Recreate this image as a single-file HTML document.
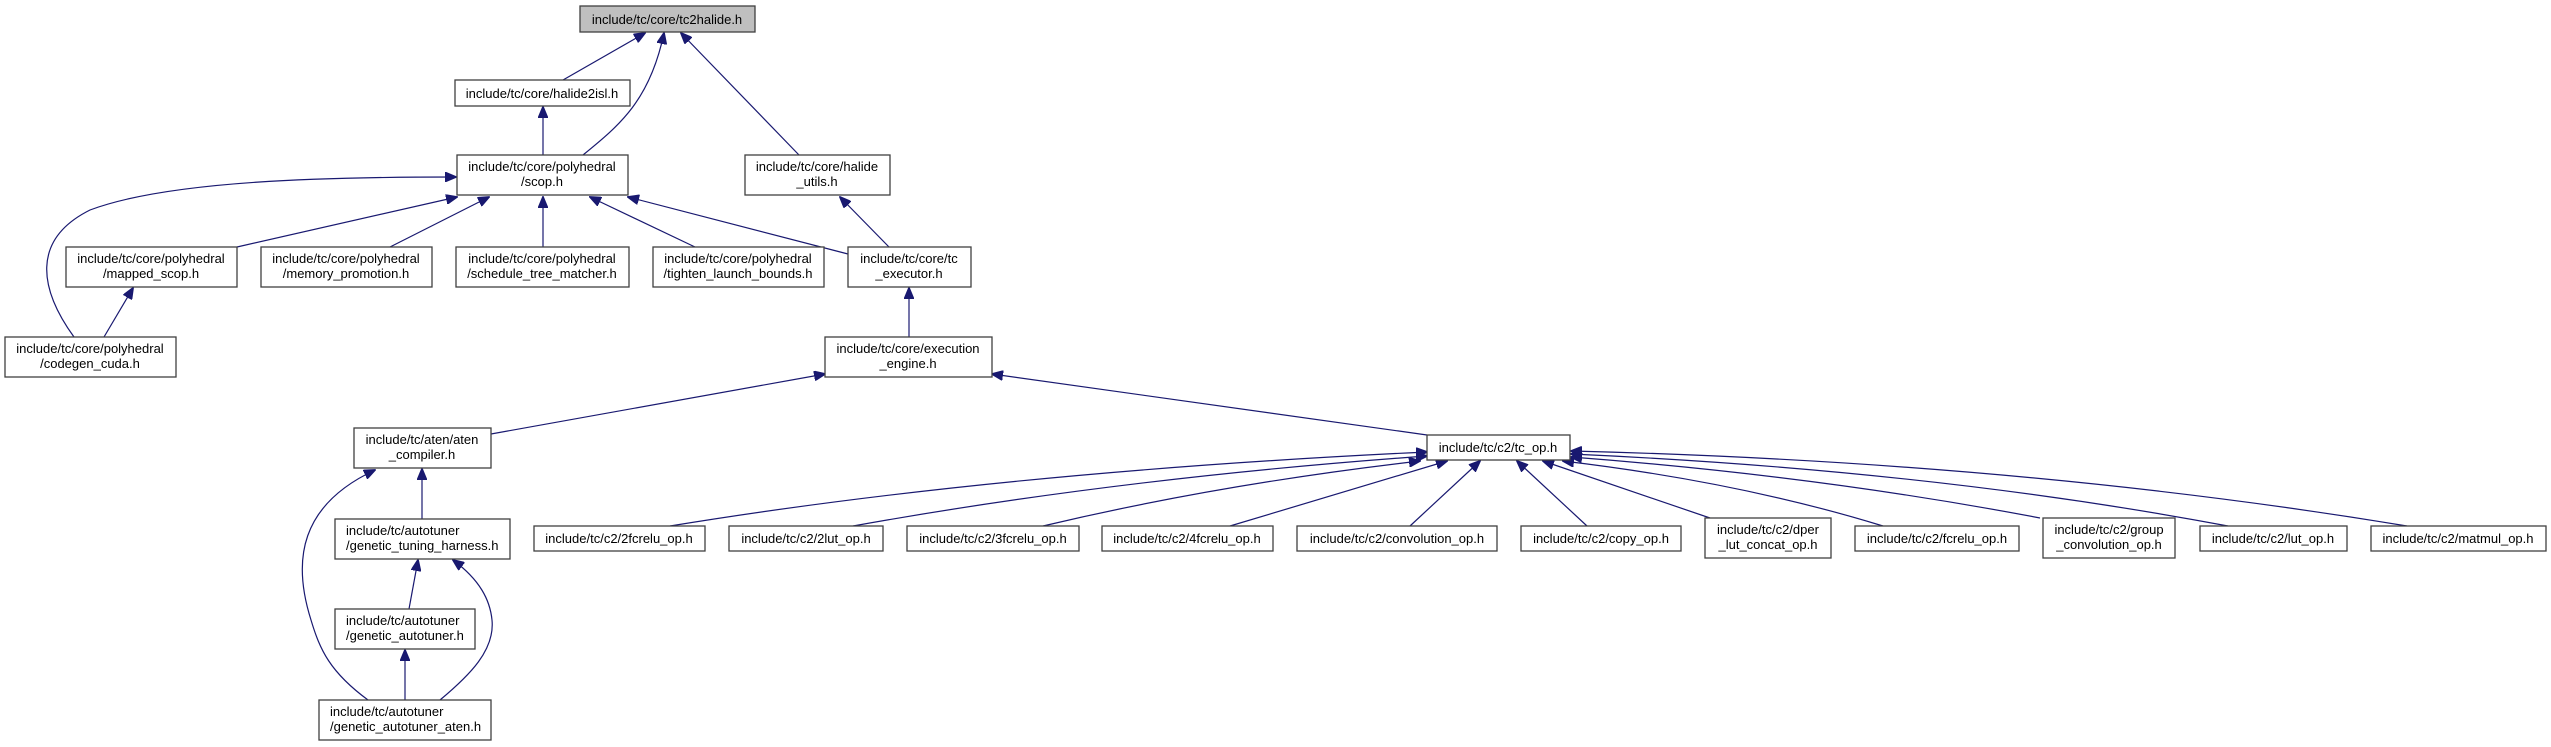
<!DOCTYPE html>
<html><head><meta charset="utf-8"><style>
html,body{margin:0;padding:0;background:#fff;}
svg{display:block;}
text{font-family:"Liberation Sans",Arial,sans-serif;font-size:13px;fill:#000;}
.n{fill:#fff;stroke:#404040;stroke-width:1.3;}
.e{fill:none;stroke:#191970;stroke-width:1.2;}
</style></head><body>
<svg width="2551" height="747" viewBox="0 0 2551 747" xmlns="http://www.w3.org/2000/svg">
<defs>
<marker id="a" markerWidth="12" markerHeight="10" refX="11" refY="5" orient="auto" markerUnits="userSpaceOnUse">
<path d="M0,0 L12,5 L0,10 z" fill="#191970" stroke="#191970"/>
</marker>
</defs>
<g class="edges">
<path class="e" marker-end="url(#a)" d="M563,80 L645,33"/>
<path class="e" marker-end="url(#a)" d="M583,155 C620,125 650,100 664,33"/>
<path class="e" marker-end="url(#a)" d="M799,155 L681,33"/>
<path class="e" marker-end="url(#a)" d="M543,155 L543,107"/>
<path class="e" marker-end="url(#a)" d="M889,247 L840,197"/>
<path class="e" marker-end="url(#a)" d="M237,247 L457,197"/>
<path class="e" marker-end="url(#a)" d="M390,247 L489,197"/>
<path class="e" marker-end="url(#a)" d="M543,247 L543,197"/>
<path class="e" marker-end="url(#a)" d="M695,247 L590,197"/>
<path class="e" marker-end="url(#a)" d="M848,254 L628,197"/>
<path class="e" marker-end="url(#a)" d="M74,337 C40,290 30,240 90,210 C170,180 330,177 456,177"/>
<path class="e" marker-end="url(#a)" d="M104,337 L133,288"/>
<path class="e" marker-end="url(#a)" d="M909,337 L909,288"/>
<path class="e" marker-end="url(#a)" d="M491,434 L825,374"/>
<path class="e" marker-end="url(#a)" d="M1427,435 L992,374"/>
<path class="e" marker-end="url(#a)" d="M422,519 L422,469"/>
<path class="e" marker-end="url(#a)" d="M368,700 C330,672 320,650 311,620 C292,560 300,505 375,470"/>
<path class="e" marker-end="url(#a)" d="M409,609 L418,560"/>
<path class="e" marker-end="url(#a)" d="M440,700 C470,675 495,650 492,620 C490,600 480,580 453,560"/>
<path class="e" marker-end="url(#a)" d="M405,700 L405,650"/>
<path class="e" marker-end="url(#a)" d="M670,526 Q1000,472 1427,452"/>
<path class="e" marker-end="url(#a)" d="M853,526 Q1120,478 1427,456"/>
<path class="e" marker-end="url(#a)" d="M1043,526 Q1220,484 1420,461"/>
<path class="e" marker-end="url(#a)" d="M1230,526 L1447,461"/>
<path class="e" marker-end="url(#a)" d="M1410,526 L1480,461"/>
<path class="e" marker-end="url(#a)" d="M1587,526 L1517,461"/>
<path class="e" marker-end="url(#a)" d="M1710,518 L1543,461"/>
<path class="e" marker-end="url(#a)" d="M1883,526 Q1740,482 1563,461"/>
<path class="e" marker-end="url(#a)" d="M2040,518 Q1820,476 1571,457"/>
<path class="e" marker-end="url(#a)" d="M2228,526 Q1930,470 1571,454"/>
<path class="e" marker-end="url(#a)" d="M2407,526 Q2020,462 1571,451"/>
</g>
<g>
<rect x="580" y="6" width="175" height="26" style="fill:#bfbfbf;stroke:#404040;stroke-width:1.3"/>
<text x="667" y="24" text-anchor="middle">include/tc/core/tc2halide.h</text>

<rect class="n" x="455" y="80" width="175" height="26"/>
<text x="542" y="98" text-anchor="middle">include/tc/core/halide2isl.h</text>

<rect class="n" x="457" y="155" width="171" height="40"/>
<text x="542" y="171" text-anchor="middle">include/tc/core/polyhedral</text>
<text x="542" y="186" text-anchor="middle">/scop.h</text>

<rect class="n" x="745" y="155" width="145" height="40"/>
<text x="817" y="171" text-anchor="middle">include/tc/core/halide</text>
<text x="817" y="186" text-anchor="middle">_utils.h</text>

<rect class="n" x="66" y="247" width="171" height="40"/>
<text x="151" y="263" text-anchor="middle">include/tc/core/polyhedral</text>
<text x="151" y="278" text-anchor="middle">/mapped_scop.h</text>

<rect class="n" x="261" y="247" width="171" height="40"/>
<text x="346" y="263" text-anchor="middle">include/tc/core/polyhedral</text>
<text x="346" y="278" text-anchor="middle">/memory_promotion.h</text>

<rect class="n" x="456" y="247" width="173" height="40"/>
<text x="542" y="263" text-anchor="middle">include/tc/core/polyhedral</text>
<text x="542" y="278" text-anchor="middle">/schedule_tree_matcher.h</text>

<rect class="n" x="653" y="247" width="171" height="40"/>
<text x="738" y="263" text-anchor="middle">include/tc/core/polyhedral</text>
<text x="738" y="278" text-anchor="middle">/tighten_launch_bounds.h</text>

<rect class="n" x="848" y="247" width="123" height="40"/>
<text x="909" y="263" text-anchor="middle">include/tc/core/tc</text>
<text x="909" y="278" text-anchor="middle">_executor.h</text>

<rect class="n" x="5" y="337" width="171" height="40"/>
<text x="90" y="353" text-anchor="middle">include/tc/core/polyhedral</text>
<text x="90" y="368" text-anchor="middle">/codegen_cuda.h</text>

<rect class="n" x="825" y="337" width="167" height="40"/>
<text x="908" y="353" text-anchor="middle">include/tc/core/execution</text>
<text x="908" y="368" text-anchor="middle">_engine.h</text>

<rect class="n" x="354" y="428" width="137" height="40"/>
<text x="422" y="444" text-anchor="middle">include/tc/aten/aten</text>
<text x="422" y="459" text-anchor="middle">_compiler.h</text>

<rect class="n" x="1427" y="435" width="143" height="25"/>
<text x="1498" y="452" text-anchor="middle">include/tc/c2/tc_op.h</text>

<rect class="n" x="335" y="519" width="175" height="40"/>
<text x="346" y="535">include/tc/autotuner</text>
<text x="346" y="550">/genetic_tuning_harness.h</text>

<rect class="n" x="335" y="609" width="140" height="40"/>
<text x="346" y="625">include/tc/autotuner</text>
<text x="346" y="640">/genetic_autotuner.h</text>

<rect class="n" x="319" y="700" width="172" height="40"/>
<text x="330" y="716">include/tc/autotuner</text>
<text x="330" y="731">/genetic_autotuner_aten.h</text>

<rect class="n" x="534" y="526" width="171" height="25"/>
<text x="619" y="543" text-anchor="middle">include/tc/c2/2fcrelu_op.h</text>
<rect class="n" x="729" y="526" width="154" height="25"/>
<text x="806" y="543" text-anchor="middle">include/tc/c2/2lut_op.h</text>
<rect class="n" x="907" y="526" width="172" height="25"/>
<text x="993" y="543" text-anchor="middle">include/tc/c2/3fcrelu_op.h</text>
<rect class="n" x="1102" y="526" width="171" height="25"/>
<text x="1187" y="543" text-anchor="middle">include/tc/c2/4fcrelu_op.h</text>
<rect class="n" x="1297" y="526" width="200" height="25"/>
<text x="1397" y="543" text-anchor="middle">include/tc/c2/convolution_op.h</text>
<rect class="n" x="1521" y="526" width="160" height="25"/>
<text x="1601" y="543" text-anchor="middle">include/tc/c2/copy_op.h</text>
<rect class="n" x="1705" y="518" width="126" height="40"/>
<text x="1768" y="534" text-anchor="middle">include/tc/c2/dper</text>
<text x="1768" y="549" text-anchor="middle">_lut_concat_op.h</text>
<rect class="n" x="1855" y="526" width="164" height="25"/>
<text x="1937" y="543" text-anchor="middle">include/tc/c2/fcrelu_op.h</text>
<rect class="n" x="2043" y="518" width="132" height="40"/>
<text x="2109" y="534" text-anchor="middle">include/tc/c2/group</text>
<text x="2109" y="549" text-anchor="middle">_convolution_op.h</text>
<rect class="n" x="2200" y="526" width="147" height="25"/>
<text x="2273" y="543" text-anchor="middle">include/tc/c2/lut_op.h</text>
<rect class="n" x="2371" y="526" width="175" height="25"/>
<text x="2458" y="543" text-anchor="middle">include/tc/c2/matmul_op.h</text>
</g>
</svg>
</body></html>
